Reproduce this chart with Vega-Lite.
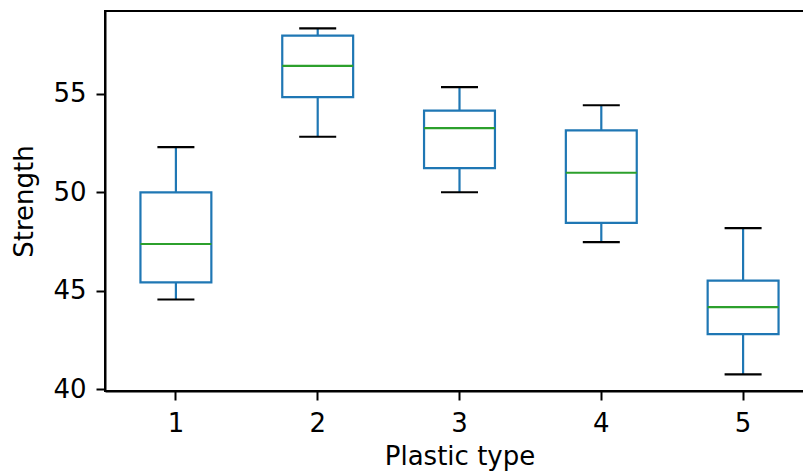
{
  "$schema": "https://vega.github.io/schema/vega-lite/v6.json",
  "autosize": {"type": "none"},
  "padding": {"left": 105, "top": 11, "right": 0, "bottom": 85},
  "width": 709,
  "height": 380,
  "background": "white",
  "data": {
    "values": [
      {"type": "1", "low": 44.55, "q1": 45.42, "median": 47.37, "q3": 49.99, "high": 52.29},
      {"type": "2", "low": 52.82, "q1": 54.83, "median": 56.42, "q3": 57.96, "high": 58.33},
      {"type": "3", "low": 50.0, "q1": 51.23, "median": 53.26, "q3": 54.15, "high": 55.34},
      {"type": "4", "low": 47.47, "q1": 48.44, "median": 50.99, "q3": 53.14, "high": 54.42},
      {"type": "5", "low": 40.74, "q1": 42.79, "median": 44.16, "q3": 45.51, "high": 48.18}
    ]
  },
  "encoding": {
    "x": {
      "field": "type",
      "type": "ordinal",
      "scale": {"paddingInner": 0, "paddingOuter": 0},
      "axis": {"title": "Plastic type", "labelAngle": 0}
    }
  },
  "layer": [
    {
      "mark": {"type": "rule", "color": "#1f77b4", "strokeWidth": 2.2},
      "encoding": {
        "y": {"field": "q3", "type": "quantitative",
          "scale": {"domain": [39.9, 59.21], "nice": false, "zero": false},
          "axis": {"title": "Strength", "values": [40, 45, 50, 55]}},
        "y2": {"field": "high"}
      }
    },
    {
      "mark": {"type": "rule", "color": "#1f77b4", "strokeWidth": 2.2},
      "encoding": {
        "y": {"field": "low", "type": "quantitative"},
        "y2": {"field": "q1"}
      }
    },
    {
      "mark": {"type": "bar", "width": {"band": 0.5}, "fill": "transparent", "stroke": "#1f77b4", "strokeWidth": 2.2},
      "encoding": {
        "y": {"field": "q1", "type": "quantitative"},
        "y2": {"field": "q3"}
      }
    },
    {
      "mark": {"type": "tick", "color": "#2ca02c", "opacity": 1, "size": 71, "thickness": 2.2},
      "encoding": {"y": {"field": "median", "type": "quantitative"}}
    },
    {
      "mark": {"type": "tick", "color": "black", "opacity": 1, "size": 37, "thickness": 2.2},
      "encoding": {"y": {"field": "high", "type": "quantitative"}}
    },
    {
      "mark": {"type": "tick", "color": "black", "opacity": 1, "size": 37, "thickness": 2.2},
      "encoding": {"y": {"field": "low", "type": "quantitative"}}
    }
  ],
  "config": {
    "view": {"stroke": "black", "strokeWidth": 2},
    "font": "DejaVu Sans",
    "axis": {
      "grid": false,
      "domainColor": "black",
      "domainWidth": 2,
      "tickColor": "black",
      "tickWidth": 2,
      "tickSize": 9,
      "labelFont": "DejaVu Sans",
      "labelFontSize": 26,
      "labelColor": "black",
      "labelPadding": 10,
      "titleFont": "DejaVu Sans",
      "titleFontSize": 26,
      "titleFontWeight": "normal",
      "titleColor": "black",
      "titlePadding": 7
    },
    "axisY": {"titlePadding": 15}
  }
}
